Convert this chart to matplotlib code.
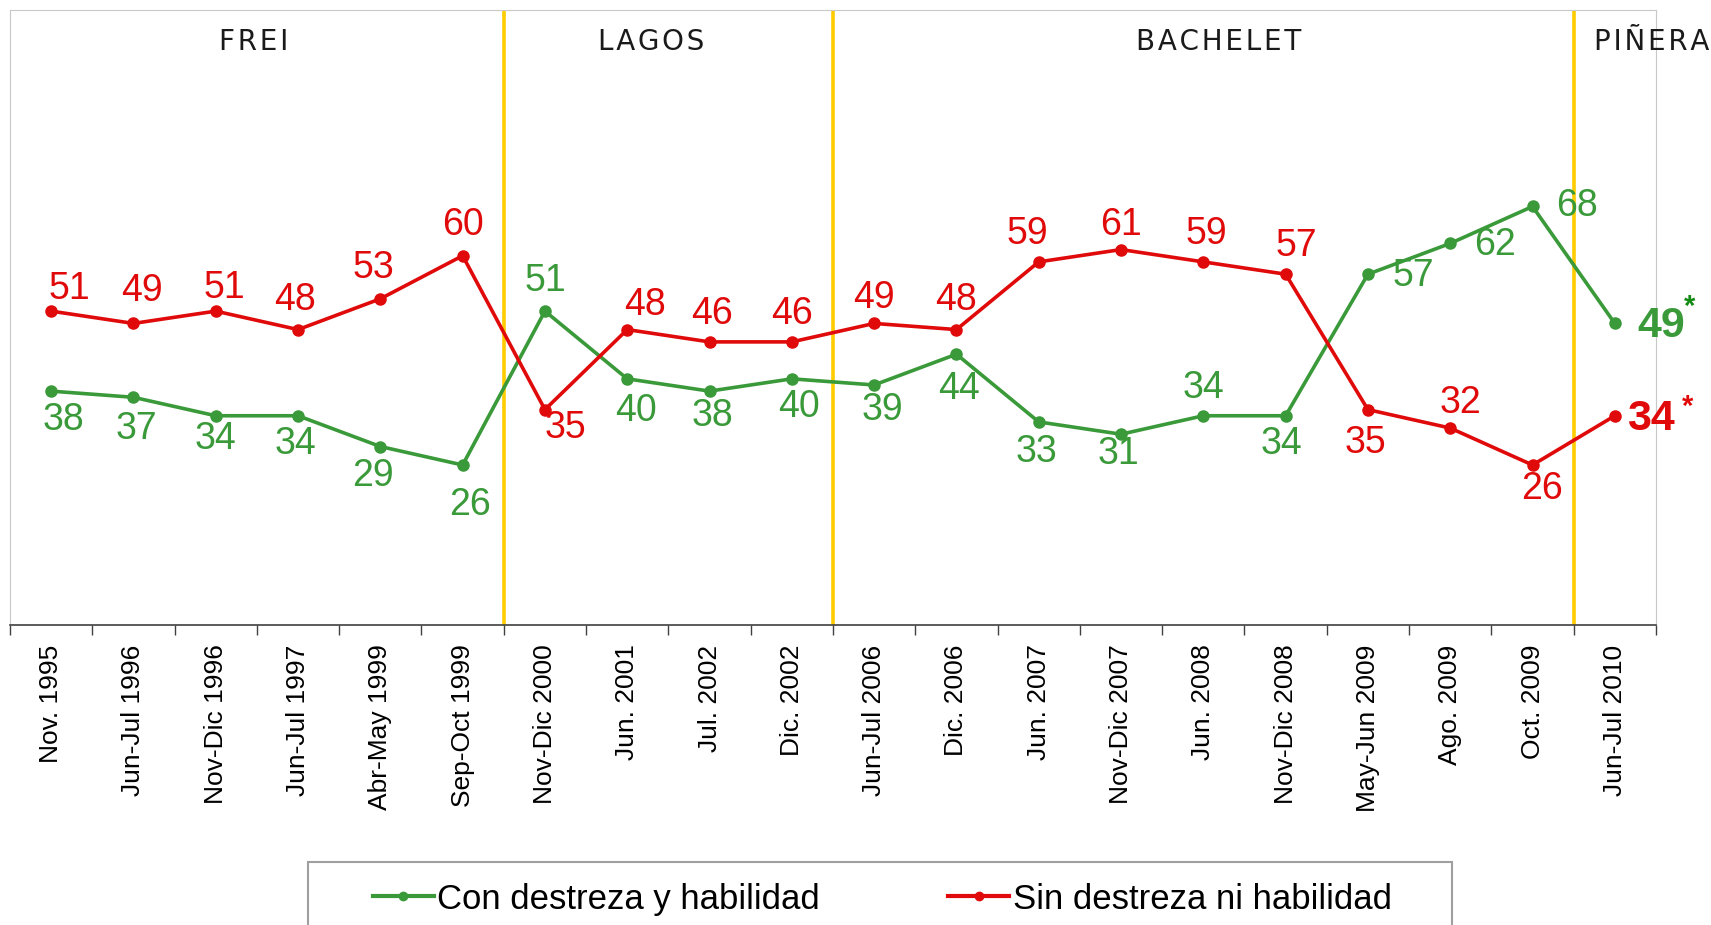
import numpy as np
import matplotlib
matplotlib.use("Agg")
import matplotlib.pyplot as plt
from matplotlib.lines import Line2D
from matplotlib.patches import Rectangle

plt.rcParams['font.family'] = ['Liberation Sans', 'DejaVu Sans']

fechas = ["Nov. 1995", "Jun-Jul 1996", "Nov-Dic 1996", "Jun-Jul 1997", "Abr-May 1999",
          "Sep-Oct 1999", "Nov-Dic 2000", "Jun. 2001", "Jul. 2002", "Dic. 2002",
          "Jun-Jul 2006", "Dic. 2006", "Jun. 2007", "Nov-Dic 2007", "Jun. 2008",
          "Nov-Dic 2008", "May-Jun 2009", "Ago. 2009", "Oct. 2009", "Jun-Jul 2010"]
con_destreza = [38, 37, 34, 34, 29, 26, 51, 40, 38, 40, 39, 44, 33, 31, 34, 34, 57, 62, 68, 49]
sin_destreza = [51, 49, 51, 48, 53, 60, 35, 48, 46, 46, 49, 48, 59, 61, 59, 57, 35, 32, 26, 34]
presidentes = ["FREI", "LAGOS", "BACHELET", "PIÑERA"]
pres_centro = [2.46, 7.29, 14.19, 19.45]
cambios = [5.5, 9.5, 18.5]

# label offsets in points
off_rojo = [(13, 16), (6, 23), (6, 17), (-2, 21), (-5, 22), (0, 22), (15, -13), (13, 18),
            (2, 20), (0, 20), (0, 18), (0, 21), (-8, 20), (0, 18), (2, 20), (8, 20),
            (-2, -24), (7, 18), (7, -17)]
off_verde = [(9, -21), (2, -23), (0, -17), (-2, -20), (-5, -21), (5, -29), (0, 22), (6, -23),
             (2, -18), (5, -20), (6, -18), (2, -25), (-2, -22), (-2, -14), (0, 20), (-3, -20),
             (33, -1), (32, -1), (32, 0)]

verde = '#3a9a3a'
rojo = '#e00a0a'

fig = plt.figure(figsize=(17.11, 9.25), dpi=100)
ax = fig.add_axes([0.00584, 0.3243, 0.962, 0.6654])

x = np.arange(len(fechas))
ax.plot(x, con_destreza, color=verde, lw=2.6, marker='o', ms=8, zorder=3)
ax.plot(x, sin_destreza, color=rojo, lw=2.6, marker='o', ms=8, zorder=3)

for xc in cambios:
    ax.axvline(xc, color='#ffcc00', lw=2.6, zorder=2)

for i in range(len(fechas) - 1):
    ax.annotate(str(sin_destreza[i]), (x[i], sin_destreza[i]), xytext=off_rojo[i],
                textcoords='offset points', ha='center', va='center', fontsize=27, color=rojo)
    ax.annotate(str(con_destreza[i]), (x[i], con_destreza[i]), xytext=off_verde[i],
                textcoords='offset points', ha='center', va='center', fontsize=27, color=verde)

# last point, bold with asterisk
ax.annotate(str(con_destreza[-1]), (x[-1], con_destreza[-1]), xytext=(16, -2),
            textcoords='offset points', ha='left', va='center', fontsize=31,
            fontweight='bold', color=verde)
ax.annotate('*', (x[-1], con_destreza[-1]), xytext=(54, 12),
            textcoords='offset points', ha='center', va='center', fontsize=21,
            fontweight='bold', color='#138a13')
ax.annotate(str(sin_destreza[-1]), (x[-1], sin_destreza[-1]), xytext=(9, -2),
            textcoords='offset points', ha='left', va='center', fontsize=31,
            fontweight='bold', color=rojo)
ax.annotate('*', (x[-1], sin_destreza[-1]), xytext=(52, 6),
            textcoords='offset points', ha='center', va='center', fontsize=21,
            fontweight='bold', color=rojo)

for nombre, xc in zip(presidentes, pres_centro):
    ax.text(xc, 94.7, '\u200a'.join(nombre), ha='center', va='center', fontsize=20,
            family='DejaVu Sans', color='#1a1a1a')

ax.set_xlim(-0.5, 19.5)
ax.set_ylim(0, 100)
ax.set_yticks([])
ax.set_xticks(x)
ax.set_xticklabels(fechas, rotation=90, fontsize=19)
ax.set_xticks(np.arange(-0.5, 20, 1), minor=True)
ax.tick_params(axis='x', which='major', length=0, pad=14)
ax.tick_params(axis='x', which='minor', length=7, width=1, color='#404040')
for s in ['top', 'left', 'right']:
    ax.spines[s].set_color('#c8c8c8')
ax.spines['bottom'].set_color('#404040')
ax.spines['bottom'].set_linewidth(1.2)

handles = [Line2D([], [], color=verde, lw=3, marker='o', ms=6),
           Line2D([], [], color=rojo, lw=3, marker='o', ms=6)]
fig.legend(handles, ["Con destreza y habilidad", "Sin destreza ni habilidad"],
           loc='center left', bbox_to_anchor=(373 / 1711, 0.028), ncol=2, frameon=False,
           handlelength=1.75, handletextpad=0.1, columnspacing=3.7, borderpad=0,
           borderaxespad=0, fontsize=25)
fig.add_artist(Rectangle((308 / 1711, -0.1), (1452 - 308) / 1711, 0.1 + 63 / 925,
                         transform=fig.transFigure, fill=False, ec='#a0a0a0', lw=1.5))

fig.savefig("out.png", dpi=100)
